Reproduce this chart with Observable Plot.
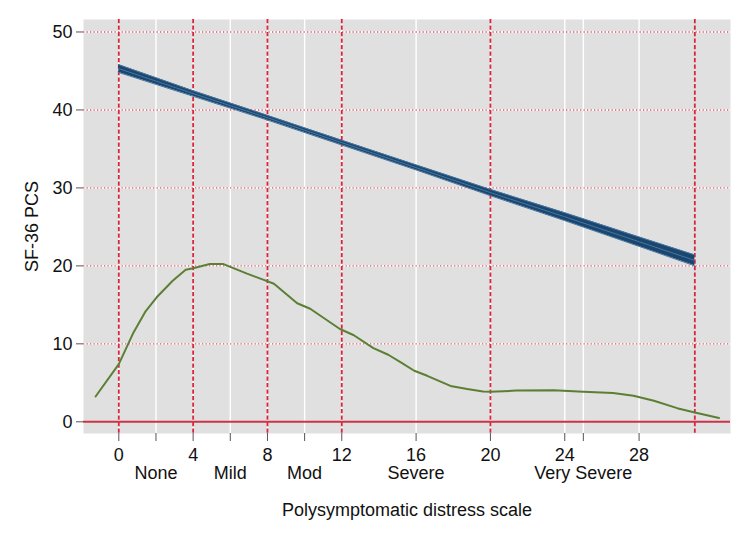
<!DOCTYPE html>
<html>
<head>
<meta charset="utf-8">
<script src="https://cdn.jsdelivr.net/npm/d3@7"></script>
<script src="https://cdn.jsdelivr.net/npm/@observablehq/plot@0.6"></script>
<style>
  html, body { margin: 0; padding: 0; background: white; }
</style>
</head>
<body>
<div id="chart"></div>
<script>
// Linear fit with confidence band (SF-36 PCS vs. polysymptomatic distress)
const fitX     = [0, 4, 8, 12, 16, 20, 24, 28, 31];
const fitMean  = [45.3, 42.1, 39.0, 35.8, 32.6, 29.4, 26.3, 23.1, 20.7];
const fitLower = [44.8, 41.75, 38.7, 35.5, 32.3, 29.0, 25.8, 22.5, 20.0];
const fitUpper = [45.8, 42.45, 39.3, 36.1, 32.95, 29.8, 26.8, 23.7, 21.4];

// Distribution curve (green)
const densX = [-1.25, 0, 0.8, 1.45, 2.05, 2.9, 3.6, 4.0, 4.9, 5.6, 6.9, 7.8, 8.35, 9.6, 10.3, 11.9, 12.65, 13.7, 14.5, 15.2, 15.9, 16.6, 17.85, 18.75, 19.6, 20.0, 21.4, 23.4, 25, 26.6, 27.7, 28.8, 30.05, 31.0, 32.3];
const densY = [3.25, 7.4, 11.5, 14.2, 16.0, 18.1, 19.5, 19.7, 20.25, 20.25, 19.0, 18.2, 17.7, 15.2, 14.5, 11.9, 11.1, 9.45, 8.6, 7.6, 6.55, 5.9, 4.6, 4.2, 3.9, 3.85, 4.0, 4.05, 3.85, 3.7, 3.35, 2.7, 1.75, 1.2, 0.5];

// Axis ticks and labels
const xTicks = [0, 2, 4, 6, 8, 10, 12, 16, 20, 24, 25, 28];
const xNumberLabels = [0, 4, 8, 12, 16, 20, 24, 28];
const catTicks = [2, 6, 10, 16, 25];
const catLabels = ["None", "Mild", "Mod", "Severe", "Very Severe"];
const cutPoints = [0, 4, 8, 12, 20, 31];
const yTicks = [0, 10, 20, 30, 40, 50];
const yGrid = [10, 20, 30, 40, 50];

const catMap = new Map(catTicks.map((d, i) => [d, catLabels[i]]));

const chart = Plot.plot({
  width: 750,
  height: 545,
  marginLeft: 83,
  marginRight: 20,
  marginTop: 19,
  marginBottom: 112,
  style: {
    fontFamily: "'Liberation Sans', Arial, Helvetica, sans-serif",
    fontSize: "18px",
    background: "white",
    color: "#111"
  },
  x: { domain: [-1.9, 32.92] },
  y: { domain: [-1.5, 51.6] },
  marks: [
    Plot.frame({ fill: "#e0e0e0", stroke: null }),
    Plot.ruleX(xTicks, { stroke: "white", strokeWidth: 1.4 }),
    Plot.ruleY(yGrid, { stroke: "white", strokeWidth: 1.4 }),
    Plot.ruleY(yGrid, { stroke: "#e2566d", strokeWidth: 1.4, strokeDasharray: "1.3,2.2" }),
    Plot.ruleX(cutPoints, { stroke: "#d7263d", strokeWidth: 1.8, strokeDasharray: "4.3,2.2" }),
    Plot.ruleY([0], { stroke: "#cc3347", strokeWidth: 2 }),
    Plot.areaY(fitX, { x: fitX, y1: fitLower, y2: fitUpper, fill: "#1b4670" }),
    Plot.lineY(fitLower, { x: fitX, stroke: "#46769f", strokeWidth: 1 }),
    Plot.lineY(fitMean, { x: fitX, stroke: "#46769f", strokeWidth: 1 }),
    Plot.lineY(fitUpper, { x: fitX, stroke: "#46769f", strokeWidth: 1 }),
    Plot.lineY(densY, { x: densX, stroke: "#5b7f33", strokeWidth: 2 }),
    Plot.axisY(yTicks, {
      tickSize: 7, tickPadding: 4, stroke: "#555", fontSize: 18,
      label: "SF-36 PCS", labelAnchor: "center", labelArrow: "none", labelOffset: 58
    }),
    Plot.axisX(xTicks, {
      tickSize: 8, tickPadding: 7, stroke: "#555", fontSize: 18,
      tickFormat: d => xNumberLabels.includes(d) ? String(d) : "",
      label: "Polysymptomatic distress scale", labelAnchor: "center", labelArrow: "none", labelOffset: 82
    }),
    Plot.axisX(catTicks, {
      tickSize: 0, tickPadding: 33, fontSize: 18,
      tickFormat: d => catMap.get(d),
      label: null
    })
  ]
});

document.getElementById("chart").appendChild(chart);
</script>
</body>
</html>
